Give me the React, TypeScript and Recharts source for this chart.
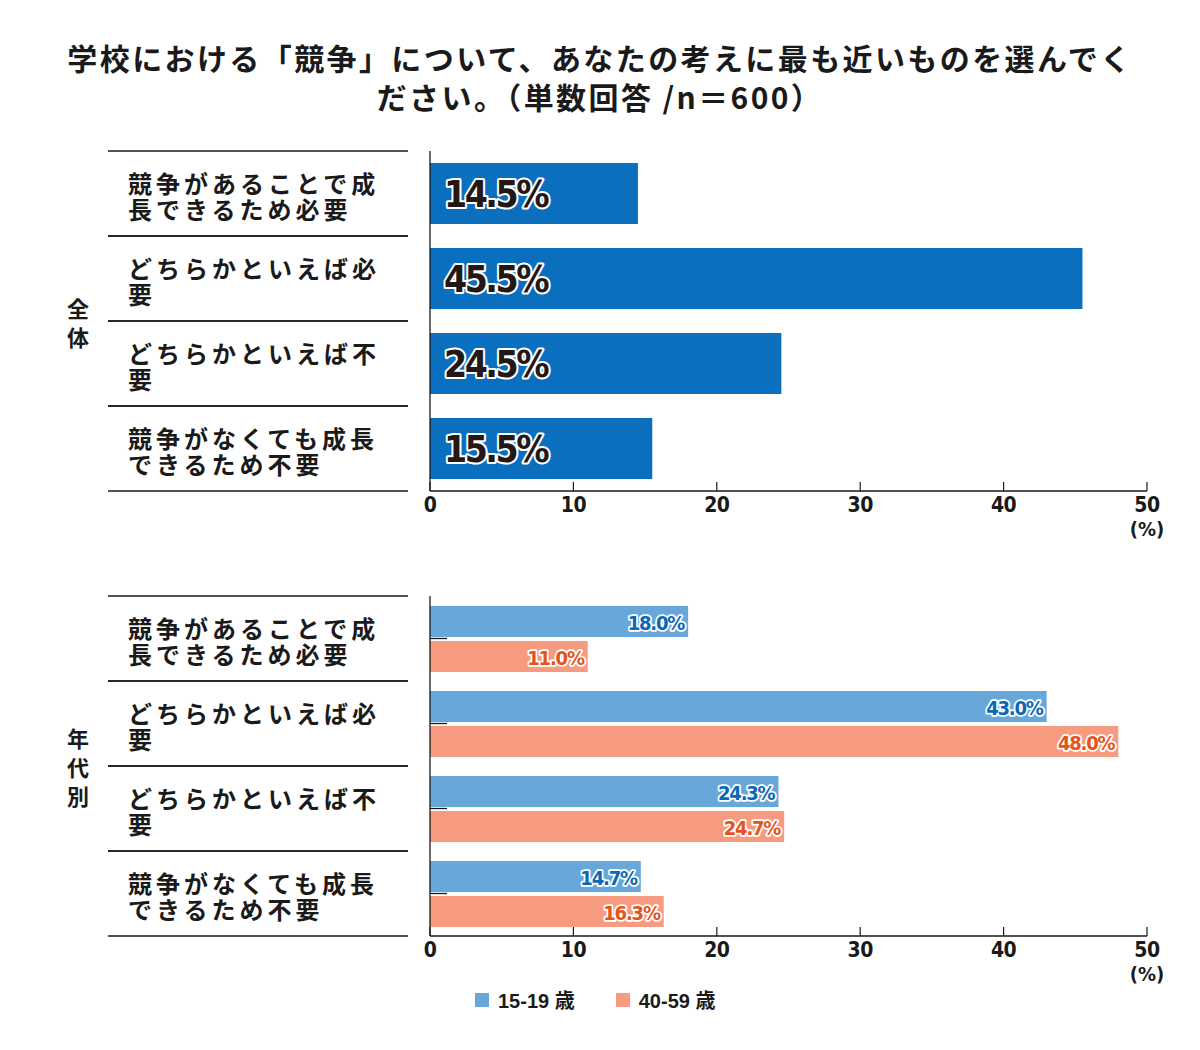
import { BarChart, Bar, XAxis, YAxis, LabelList, Label } from 'recharts'

const categories = [
  '競争があることで成長できるため必要',
  'どちらかといえば必要',
  'どちらかといえば不要',
  '競争がなくても成長できるため不要',
]
const overall = [14.5, 45.5, 24.5, 15.5]
const age15to19 = [18.0, 43.0, 24.3, 14.7]
const age40to59 = [11.0, 48.0, 24.7, 16.3]
const xTicks = [0, 10, 20, 30, 40, 50]
const seriesNames = ['15-19 歳', '40-59 歳']

const JP_FONT = '"Noto Sans CJK JP", "Noto Sans", sans-serif'
const NUM_FONT = '"Liberation Sans Narrow", "DejaVu Sans Condensed", sans-serif'
const INK = '#1a1a1a'
const BLUE_DARK = '#0a6fbe'
const BLUE = '#67a7d9'
const ORANGE = '#f69b80'

const overallData = categories.map((name, i) => ({ name, overall: overall[i] }))
const ageData = categories.map((name, i) => ({ name, young: age15to19[i], older: age40to59[i] }))

const ROW_HALF = 42.5

// category label wrapped at 9 chars, with row separators above and below
function CategoryTick(props: any) {
  const { x, y, payload, innerTick } = props
  const text: string = payload.value
  const lines = [text.slice(0, 9), text.slice(9)].filter(Boolean)
  return (
    <g>
      <line x1={x - 322} x2={x - 22} y1={y - ROW_HALF} y2={y - ROW_HALF} stroke={INK} strokeWidth={1.3} />
      <line x1={x - 322} x2={x - 22} y1={y + ROW_HALF} y2={y + ROW_HALF} stroke={INK} strokeWidth={1.3} />
      <text
        x={x - 302}
        y={y - 11.5}
        dominantBaseline="central"
        fontFamily={JP_FONT}
        fontSize={24}
        fontWeight={700}
        letterSpacing={4}
        fill={INK}
      >
        {lines.map((l, i) => (
          <tspan key={i} x={x - 302} dy={i === 0 ? 0 : 26}>
            {l}
          </tspan>
        ))}
      </text>
      {innerTick && <line x1={x} x2={x + 17} y1={y} y2={y} stroke={INK} strokeWidth={1.3} />}
    </g>
  )
}

function ValueTick(props: any) {
  const { x, y, payload } = props
  return (
    <g>
      <line x1={x} x2={x} y1={y} y2={y - 9} stroke={INK} strokeWidth={1.2} />
      <text x={x} y={y + 14} textAnchor="middle" dominantBaseline="central" fontFamily={NUM_FONT} fontSize={21} fontWeight={700} letterSpacing={-0.5} fill={INK}>
        {payload.value}
      </text>
      {payload.value === 50 && (
        <text x={x} y={y + 38} textAnchor="middle" dominantBaseline="central" fontFamily={NUM_FONT} fontSize={20} fontWeight={700} fill={INK}>
          (%)
        </text>
      )}
    </g>
  )
}

// vertical group caption at the far left of each panel
function GroupCaption({ viewBox, text }: any) {
  const chars: string[] = Array.from(text)
  const cy = viewBox.y + viewBox.height / 2
  return (
    <g>
      {chars.map((c, i) => (
        <text
          key={i}
          x={viewBox.x + 78}
          y={cy + (i - (chars.length - 1) / 2) * 29}
          textAnchor="middle"
          dominantBaseline="central"
          fontFamily={JP_FONT}
          fontSize={22}
          fontWeight={700}
          fill={INK}
        >
          {c}
        </text>
      ))}
    </g>
  )
}

function InsideLeftLabel(props: any) {
  const { x, y, height, value } = props
  return (
    <text
      x={x + 14}
      y={y + height / 2 + 1}
      dominantBaseline="central"
      fontFamily={NUM_FONT}
      fontSize={37}
      fontWeight={700}
      letterSpacing={-2.5}
      fill="#231815"
      stroke="#fff"
      strokeWidth={4}
      strokeLinejoin="round"
      paintOrder="stroke"
    >
      {`${Number(value).toFixed(1)}%`}
    </text>
  )
}

function endLabel(color: string) {
  return (props: any) => {
    const { x, y, width, height, value } = props
    return (
      <text
        x={x + width - 4}
        y={y + height / 2 + 1}
        textAnchor="end"
        dominantBaseline="central"
        fontFamily={NUM_FONT}
        fontSize={20}
        fontWeight={700}
        letterSpacing={-1.2}
        fill={color}
        stroke="#fff"
        strokeWidth={3.5}
        strokeLinejoin="round"
        paintOrder="stroke"
      >
        {`${Number(value).toFixed(1)}%`}
      </text>
    )
  }
}

const chartMargin = { top: 151, right: 53, bottom: 29, left: 0 }

export default function App() {
  return (
    <div style={{ position: 'absolute', left: 0, top: 0, width: 1200, height: 1050, background: '#fff', fontFamily: JP_FONT }}>
      <div
        style={{
          position: 'absolute',
          top: 38,
          left: 0,
          width: 1200,
          textAlign: 'center',
          fontSize: 30,
          fontWeight: 700,
          lineHeight: '39px',
          color: INK,
          letterSpacing: 2.4,
        }}
      >
        学校における「競争」について、あなたの考えに最も近いものを選んでく
        <br />
        ださい。（単数回答 /n＝600）
      </div>

      <div style={{ position: 'absolute', left: 0, top: 0 }}>
        <BarChart width={1200} height={560} data={overallData} layout="vertical" margin={chartMargin} barCategoryGap={12}>
          <XAxis
            type="number"
            domain={[0, 50]}
            ticks={xTicks}
            height={40}
            tickSize={0}
            tickMargin={0}
            tick={<ValueTick />}
            axisLine={{ stroke: INK, strokeWidth: 1.3 }}
          />
          <YAxis
            type="category"
            dataKey="name"
            width={430}
            tickSize={0}
            tickMargin={0}
            tick={<CategoryTick />}
            axisLine={{ stroke: INK, strokeWidth: 1.3 }}
          >
            <Label content={(p: any) => <GroupCaption {...p} text="全体" />} />
          </YAxis>
          <Bar dataKey="overall" fill={BLUE_DARK} isAnimationActive={false}>
            <LabelList dataKey="overall" content={<InsideLeftLabel />} />
          </Bar>
        </BarChart>
      </div>

      <div style={{ position: 'absolute', left: 0, top: 445 }}>
        <BarChart width={1200} height={560} data={ageData} layout="vertical" margin={chartMargin} barCategoryGap={10} barGap={4}>
          <XAxis
            type="number"
            domain={[0, 50]}
            ticks={xTicks}
            height={40}
            tickSize={0}
            tickMargin={0}
            tick={<ValueTick />}
            axisLine={{ stroke: INK, strokeWidth: 1.3 }}
          />
          <YAxis
            type="category"
            dataKey="name"
            width={430}
            tickSize={0}
            tickMargin={0}
            tick={<CategoryTick innerTick />}
            axisLine={{ stroke: INK, strokeWidth: 1.3 }}
          >
            <Label content={(p: any) => <GroupCaption {...p} text="年代別" />} />
          </YAxis>
          <Bar dataKey="young" name={seriesNames[0]} fill={BLUE} isAnimationActive={false}>
            <LabelList dataKey="young" content={endLabel('#0a68b4')} />
          </Bar>
          <Bar dataKey="older" name={seriesNames[1]} fill={ORANGE} isAnimationActive={false}>
            <LabelList dataKey="older" content={endLabel('#e5531c')} />
          </Bar>
        </BarChart>
      </div>

      <div style={{ position: 'absolute', top: 985, left: 475, display: 'flex', alignItems: 'center', fontFamily: '"Liberation Sans", "Noto Sans CJK JP", sans-serif', fontSize: 20, fontWeight: 700, color: INK }}>
        {seriesNames.map((n, i) => (
          <div key={n} style={{ display: 'flex', alignItems: 'center', marginRight: 41 }}>
            <span style={{ display: 'inline-block', width: 14, height: 14, background: i === 0 ? BLUE : ORANGE, marginRight: 9 }} />
            <span>{n}</span>
          </div>
        ))}
      </div>
    </div>
  )
}
